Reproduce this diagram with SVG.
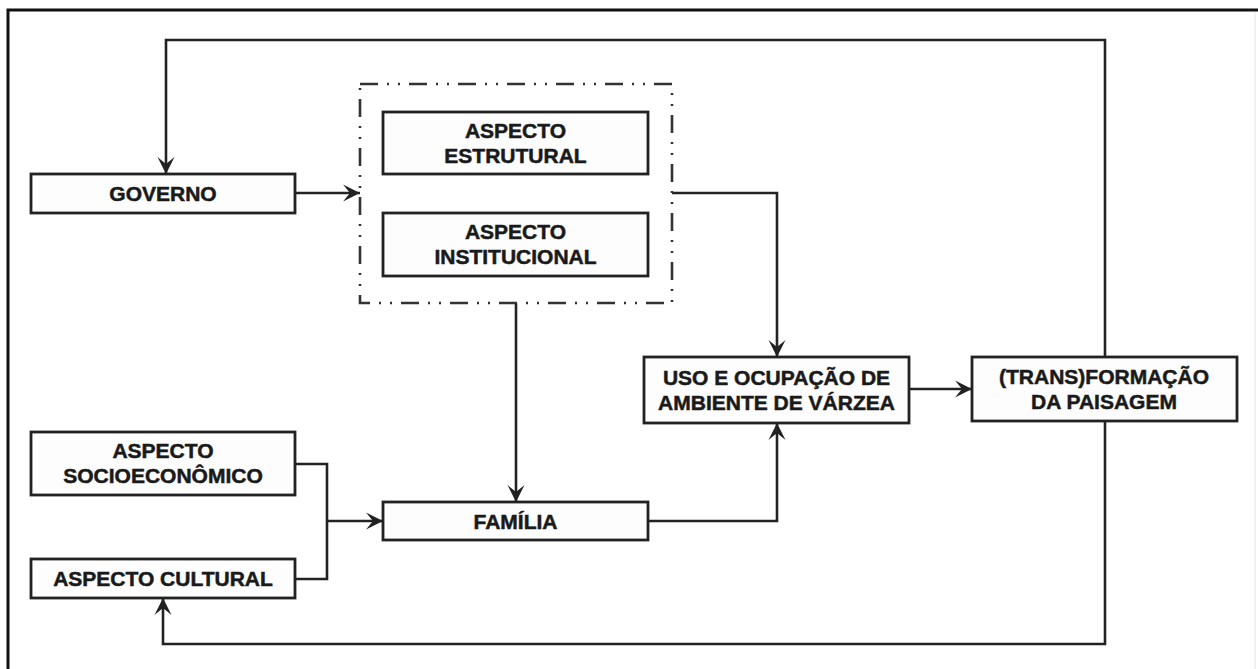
<svg xmlns="http://www.w3.org/2000/svg" width="1258" height="669" viewBox="0 0 1258 669">
<defs>
<style>
.box{fill:#fdfdfd;stroke:#222;stroke-width:2.8}
.grp{fill:none;stroke:#333;stroke-width:2.6;stroke-dasharray:18 9 2 9 2 9}
.lbl{font-family:"Liberation Sans",Arial,sans-serif;font-weight:bold;font-size:21px;fill:#1a1a1a;stroke:#1a1a1a;stroke-width:0.5;text-anchor:middle}
.con{fill:none;stroke:#222;stroke-width:2.6}
.frame{fill:none;stroke:#111;stroke-width:3}
</style>
<marker id="arr" markerUnits="userSpaceOnUse" markerWidth="18" markerHeight="18" viewBox="0 0 18 18" refX="17" refY="9" orient="auto">
<path d="M0,0.5 L17,9 L0,17.5 L7,9 Z" fill="#222"/>
</marker>
</defs>
<rect width="1258" height="669" fill="#ffffff"/>
<g id="frame">
<path class="frame" d="M8,669 L8,10 L1258,10"/>
<line x1="1255" y1="12" x2="1255" y2="669" stroke="#ececec" stroke-width="1.5"/>
</g>
<g id="connectors">
<path class="con" d="M295,193 L360,193" marker-end="url(#arr)"/>
<path class="con" d="M672,193 L777,193 L777,357" marker-end="url(#arr)"/>
<path class="con" d="M516,303 L516,502" marker-end="url(#arr)"/>
<path class="con" d="M295,464 L327,464 L327,579 L295,579"/>
<path class="con" d="M327,521 L383,521" marker-end="url(#arr)"/>
<path class="con" d="M648,521 L777,521 L777,423" marker-end="url(#arr)"/>
<path class="con" d="M909,389 L972,389" marker-end="url(#arr)"/>
<path class="con" d="M1105,357 L1105,40 L166,40 L166,174" marker-end="url(#arr)"/>
<path class="con" d="M1105,421 L1105,644 L163,644 L163,598" marker-end="url(#arr)"/>
</g>
<g id="governo">
<rect class="box" x="31" y="174" width="264" height="39"/>
<text class="lbl" x="163" y="201">GOVERNO</text>
</g>
<g id="grupo-aspectos">
<rect class="grp" x="360" y="84" width="312" height="219"/>
</g>
<g id="aspecto-estrutural">
<rect class="box" x="383" y="112" width="265" height="62"/>
<text class="lbl" x="515.5" y="138">ASPECTO</text>
<text class="lbl" x="515.5" y="163">ESTRUTURAL</text>
</g>
<g id="aspecto-institucional">
<rect class="box" x="383" y="213" width="265" height="63"/>
<text class="lbl" x="515.5" y="239">ASPECTO</text>
<text class="lbl" x="515.5" y="264">INSTITUCIONAL</text>
</g>
<g id="uso-ocupacao">
<rect class="box" x="644" y="357" width="265" height="66"/>
<text class="lbl" x="776.5" y="385">USO E OCUPAÇÃO DE</text>
<text class="lbl" x="776.5" y="410">AMBIENTE DE VÁRZEA</text>
</g>
<g id="transformacao">
<rect class="box" x="972" y="357" width="265" height="64"/>
<text class="lbl" x="1104" y="384">(TRANS)FORMAÇÃO</text>
<text class="lbl" x="1104" y="409">DA PAISAGEM</text>
</g>
<g id="aspecto-socioeconomico">
<rect class="box" x="31" y="432" width="264" height="63"/>
<text class="lbl" x="163" y="458">ASPECTO</text>
<text class="lbl" x="163" y="483">SOCIOECONÔMICO</text>
</g>
<g id="familia">
<rect class="box" x="383" y="502" width="265" height="38"/>
<text class="lbl" x="515.5" y="529">FAMÍLIA</text>
</g>
<g id="aspecto-cultural">
<rect class="box" x="31" y="559" width="264" height="39"/>
<text class="lbl" x="163" y="586">ASPECTO CULTURAL</text>
</g>
</svg>
